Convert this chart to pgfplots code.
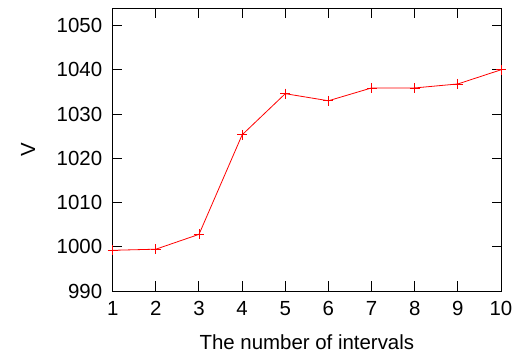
\documentclass[border=0pt]{standalone}
\usepackage{fontspec}
\setmainfont{Liberation Sans}
\usepackage{pgfplots}
\pgfplotsset{compat=1.18}
\begin{document}
\begin{tikzpicture}
\useasboundingbox (0,0) rectangle (520bp,353bp);
\begin{axis}[
  at={(112.7bp,62bp)}, anchor=south west,
  scale only axis, width=388.3bp, height=282.7bp,
  xmin=1, xmax=10, ymin=990, ymax=1053.9,
  xtick={1,...,10}, ytick={990,1000,...,1050},
  tick align=inside, major tick length=9.5bp,
  axis line style={line width=1bp},
  every tick/.style={black, line width=1bp},
  /pgf/number format/assume math mode=true,
  /pgf/number format/1000 sep={},
  tick label style={font=\fontsize{20.5}{22}\selectfont},
  label style={font=\fontsize{20.5}{22}\selectfont},
  xticklabel style={yshift=-7bp},
  yticklabel style={xshift=-7bp},
  xlabel={The number of intervals},
  ylabel={V},
  xlabel style={at={(axis description cs:0.5,0)}, anchor=base, yshift=-58bp},
  ylabel style={at={(axis description cs:0,0.5)}, anchor=center, yshift=84.7bp},
]
\addplot[red, line width=0.8bp, mark=+, mark size=5bp, mark options={line width=0.8bp}] coordinates {
(1,999.2) (2,999.45) (3,1002.8) (4,1025.3) (5,1034.6) (6,1033.0) (7,1035.9) (8,1035.9) (9,1036.8) (10,1040.0)
};
\end{axis}
\end{tikzpicture}
\end{document}
